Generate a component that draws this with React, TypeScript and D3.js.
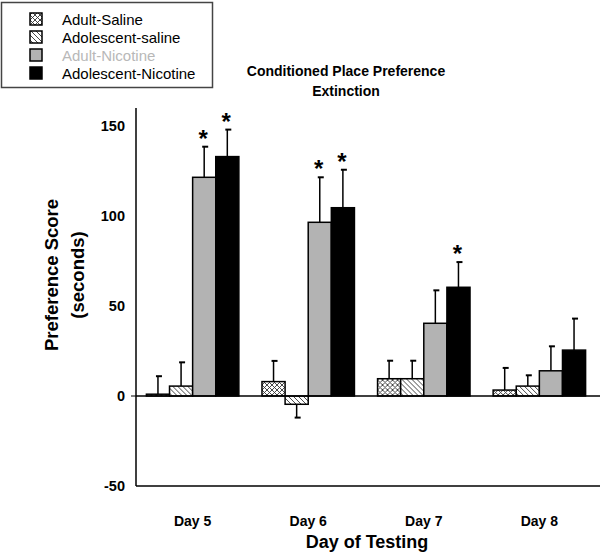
import React from "react";
import * as d3 from "d3";

const days = ["Day 5", "Day 6", "Day 7", "Day 8"];
const groups = ["Adult-Saline", "Adolescent-saline", "Adult-Nicotine", "Adolescent-Nicotine"];
const adultSaline = [1, 8, 9.6, 3.3];
const adultSalineErr = [10, 11.5, 10, 12.3];
const adolSaline = [5.5, -4.6, 9.6, 5.5];
const adolSalineErr = [13.2, 7.4, 10, 6];
const adultNicotine = [121.5, 96.5, 40.4, 14];
const adultNicotineErr = [17, 25, 18.3, 13.6];
const adolNicotine = [133, 104.6, 60.4, 25.5];
const adolNicotineErr = [15, 21.1, 14, 17.5];
const significant = [
  [false, false, true, true],
  [false, false, true, true],
  [false, false, false, true],
  [false, false, false, false],
];
const yTicks = [-50, 0, 50, 100, 150];

const seriesValues = [adultSaline, adolSaline, adultNicotine, adolNicotine];
const seriesErrors = [adultSalineErr, adolSalineErr, adultNicotineErr, adolNicotineErr];
const fills = ["url(#cross)", "url(#diag)", "#b3b3b3", "#000000"];
const legendTextColors = ["#000", "#000", "#b8b8b8", "#000"];

const FONT = "'Liberation Sans', Arial, sans-serif";

export default function App() {
  const W = 600;
  const H = 552;
  const y = d3.scaleLinear().domain([-50, 160]).range([486, 108]);
  const x = d3.scaleBand<string>().domain(days).range([136, 596]).paddingInner(0.2).paddingOuter(0.09);
  const xi = d3.scaleBand<string>().domain(groups).range([0, x.bandwidth()]);
  const bw = xi.bandwidth();

  return (
    <svg width={W} height={H} style={{ position: "absolute", left: 0, top: 0, background: "#fff" }} fontFamily={FONT}>
      <defs>
        <pattern id="cross" patternUnits="userSpaceOnUse" width={5} height={5}>
          <rect width={5} height={5} fill="#fff" />
          <path d="M0,0 L5,5 M5,0 L0,5" stroke="#333" strokeWidth={0.9} />
        </pattern>
        <pattern id="diag" patternUnits="userSpaceOnUse" width={5} height={5}>
          <rect width={5} height={5} fill="#fff" />
          <path d="M-1,-1 L6,6 M-1,4 L1,6 M4,-1 L6,1" stroke="#333" strokeWidth={0.9} />
        </pattern>
      </defs>
      <rect width={W} height={H} fill="#fff" />

      {/* Legend */}
      <rect x={1.5} y={2.5} width={211} height={85} fill="#fff" stroke="#444" strokeWidth={1.5} />
      {groups.map((g, i) => (
        <g key={g}>
          <rect x={30} y={13 + i * 18} width={12} height={12} fill={fills[i]} stroke="#000" strokeWidth={1.5} />
          <text x={62} y={24.5 + i * 18} fontSize={15} fill={legendTextColors[i]}>{g}</text>
        </g>
      ))}

      {/* Title */}
      <text x={346} y={76} textAnchor="middle" fontSize={14} fontWeight="bold">Conditioned Place Preference</text>
      <text x={346} y={96} textAnchor="middle" fontSize={14} fontWeight="bold">Extinction</text>

      {/* Y axis */}
      <line x1={136} x2={136} y1={y(160)} y2={y(-50)} stroke="#000" strokeWidth={1.5} />
      {yTicks.map((t) => (
        <text key={t} x={125} y={y(t) + 5} textAnchor="end" fontSize={14.5} fontWeight="bold">{t}</text>
      ))}
      <line x1={131} x2={136} y1={y(0)} y2={y(0)} stroke="#000" strokeWidth={1} />
      <text transform="translate(58,275) rotate(-90)" textAnchor="middle" fontSize={18.5} fontWeight="bold">Preference Score</text>
      <text transform="translate(84,275) rotate(-90)" textAnchor="middle" fontSize={18.5} fontWeight="bold">(seconds)</text>

      {/* X axis */}
      <line x1={136} x2={600} y1={y(-50)} y2={y(-50)} stroke="#000" strokeWidth={1.5} />
      {days.map((d) => (
        <text key={d} x={(x(d) as number) + x.bandwidth() / 2} y={526} textAnchor="middle" fontSize={14} fontWeight="bold">{d}</text>
      ))}
      <text x={367} y={548} textAnchor="middle" fontSize={18} fontWeight="bold">Day of Testing</text>

      {/* Bars */}
      {days.map((d, di) => (
        <g key={d} transform={`translate(${x(d)},0)`}>
          {groups.map((g, gi) => {
            const v = seriesValues[gi][di];
            const e = seriesErrors[gi][di];
            const bx = xi(g) as number;
            const top = y(Math.max(0, v));
            const h = Math.abs(y(v) - y(0));
            const cx = bx + bw / 2;
            const endV = v >= 0 ? v + e : v - e;
            const startY = y(v);
            const endY = y(endV);
            return (
              <g key={g}>
                <line x1={cx} x2={cx} y1={startY} y2={endY} stroke="#000" strokeWidth={1.5} />
                <line x1={cx - 2} x2={cx + 4} y1={endY} y2={endY} stroke="#000" strokeWidth={2} />
                <rect x={bx} y={top} width={bw} height={Math.max(h, 0.5)} fill={fills[gi]} stroke="#000" strokeWidth={1.5} />
                {significant[di][gi] && (
                  <text x={cx - 1} y={endY} textAnchor="middle" fontSize={24} fontWeight="bold">*</text>
                )}
              </g>
            );
          })}
        </g>
      ))}
      {/* zero line */}
      <line x1={136} x2={600} y1={y(0)} y2={y(0)} stroke="#000" strokeWidth={1.5} />
    </svg>
  );
}
